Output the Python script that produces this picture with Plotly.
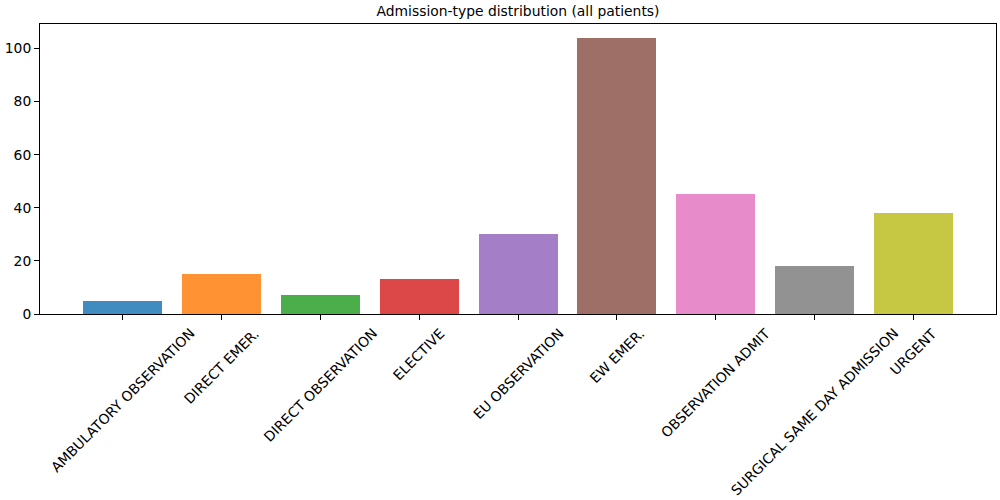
import plotly.graph_objects as go

categories = ["AMBULATORY OBSERVATION", "DIRECT EMER.", "DIRECT OBSERVATION", "ELECTIVE",
              "EU OBSERVATION", "EW EMER.", "OBSERVATION ADMIT",
              "SURGICAL SAME DAY ADMISSION", "URGENT"]
counts = [5, 15, 7, 13, 30, 104, 45, 18, 38]
colors = ["#1f77b4", "#ff7f0e", "#2ca02c", "#d62728", "#9467bd",
          "#8c564b", "#e377c2", "#7f7f7f", "#bcbd22"]
y_ticks = [0, 20, 40, 60, 80, 100]

x_idx = list(range(len(categories)))
FS = 13.89

fig = go.Figure(go.Bar(
    x=x_idx, y=counts, width=0.8,
    marker=dict(color=colors, opacity=0.85, line=dict(width=0)),
))

font = dict(family="DejaVu Sans", size=FS, color="#000000")
fig.update_layout(
    width=1000, height=500,
    margin=dict(l=40, r=4, t=24, b=186),
    paper_bgcolor="white", plot_bgcolor="white",
    font=font,
    title=dict(text="Admission-type distribution (all patients)", x=(40 + 996) / 2 / 1000,
               xanchor="center", y=1 - 11 / 500, yanchor="middle", font=font),
    showlegend=False,
    bargap=0,
)
# rotated category labels, centred on each tick like the reference
for i, cat in zip(x_idx, categories):
    fig.add_annotation(
        x=i, xref="x", y=0, yref="paper", yshift=-10,
        text=cat, textangle=-45, showarrow=False,
        xanchor="center", yanchor="top", font=font, borderpad=0,
    )
fig.update_xaxes(
    range=[-0.84, len(categories) - 1 + 0.84],
    tickmode="array", tickvals=x_idx, showticklabels=False,
    ticks="outside", ticklen=5, tickcolor="black",
    showline=True, linecolor="black", linewidth=1, mirror=True,
    showgrid=False, zeroline=False,
)
fig.update_yaxes(
    range=[0, 109.2],
    tickmode="array", tickvals=y_ticks,
    ticks="outside", ticklen=5, tickcolor="black",
    showline=True, linecolor="black", linewidth=1, mirror=True,
    showgrid=False, zeroline=False,
)
fig.write_html("out.html")
